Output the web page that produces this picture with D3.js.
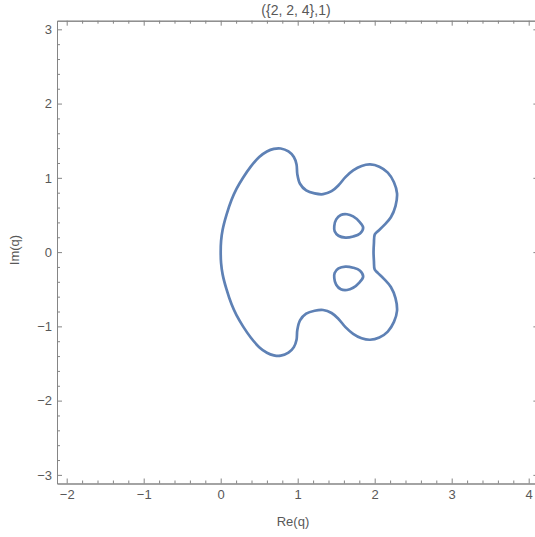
<!DOCTYPE html>
<html>
<head>
<meta charset="utf-8">
<script src="https://cdn.jsdelivr.net/npm/d3@7"></script>
<style>
  body { margin: 0; background: #fff; }
  svg { display: block; font-family: "Liberation Sans", Arial, sans-serif; }
</style>
</head>
<body>
<svg id="chart"></svg>
<script>
// contour, {Re(q), Im(q)}
var outerCurve = [
  [0.0, 0.0], [0.005, 0.15], [0.025, 0.30], [0.075, 0.50], [0.14, 0.70], [0.205, 0.85],
  [0.29, 1.00], [0.39, 1.15], [0.50, 1.28], [0.60, 1.355], [0.69, 1.39], [0.78, 1.395],
  [0.88, 1.355], [0.95, 1.28],
  [0.985, 1.18], [0.995, 1.05], [1.03, 0.92], [1.11, 0.83], [1.22, 0.79], [1.33, 0.78],
  [1.44, 0.82], [1.53, 0.90], [1.62, 1.01], [1.72, 1.10], [1.83, 1.16], [1.94, 1.18],
  [2.06, 1.15], [2.17, 1.07], [2.25, 0.94], [2.29, 0.79], [2.27, 0.62], [2.21, 0.47],
  [2.12, 0.36], [2.04, 0.28], [2.00, 0.235], [1.99, 0.12], [1.985, 0.0],
  [1.99, -0.12], [2.00, -0.235], [2.04, -0.28], [2.12, -0.36], [2.21, -0.47], [2.27, -0.62],
  [2.29, -0.79], [2.25, -0.94], [2.17, -1.07], [2.06, -1.15], [1.94, -1.18], [1.83, -1.16],
  [1.72, -1.10], [1.62, -1.01], [1.53, -0.90], [1.44, -0.82], [1.33, -0.78], [1.22, -0.79],
  [1.11, -0.83], [1.03, -0.92], [0.995, -1.05], [0.985, -1.18], [0.95, -1.28],
  [0.88, -1.355], [0.78, -1.395], [0.69, -1.39], [0.60, -1.355], [0.50, -1.28], [0.39, -1.15],
  [0.29, -1.00], [0.205, -0.85], [0.14, -0.70], [0.075, -0.50], [0.025, -0.30], [0.005, -0.15]
];
var upperLoop = [
  [1.475, 0.35], [1.50, 0.44], [1.56, 0.50], [1.64, 0.51], [1.72, 0.48], [1.80, 0.41],
  [1.85, 0.33], [1.81, 0.25], [1.72, 0.21], [1.62, 0.195], [1.53, 0.22], [1.48, 0.28]
];
var lowerLoop = [
  [1.475, -0.35], [1.48, -0.28], [1.53, -0.22], [1.62, -0.195], [1.72, -0.21], [1.81, -0.25],
  [1.85, -0.33], [1.80, -0.41], [1.72, -0.48], [1.64, -0.51], [1.56, -0.50], [1.50, -0.44]
];
var xMajor = [-2, -1, 0, 1, 2, 3, 4];
var yMajor = [-3, -2, -1, 0, 1, 2, 3];
var title = "({2, 2, 4},1)";
var xLabel = "Re(q)";
var yLabel = "Im(q)";

var W = 535, H = 537;
var frame = {left: 57, top: 20.7, right: 538.4, bottom: 483.5};
var frameColor = "#858585", textColor = "#585858";
var lineColor = "#5e81b5";

var svg = d3.select("#chart").attr("width", W).attr("height", H);

var x = d3.scaleLinear().domain([-2.126, 4.126]).range([frame.left, frame.right]);
var y = d3.scaleLinear().domain([-3.116, 3.116]).range([frame.bottom, frame.top]);

var xMinor = d3.range(-2.2, 4.21, 0.2).map(function(v){ return +v.toFixed(1); })
  .filter(function(v){ return v >= -2.126 && v <= 4.126 && xMajor.indexOf(v) < 0; });
var yMinor = d3.range(-3.2, 3.21, 0.2).map(function(v){ return +v.toFixed(1); })
  .filter(function(v){ return v >= -3.116 && v <= 3.116 && yMajor.indexOf(v) < 0; });

function fmt(d){ return d < 0 ? "\u2212" + Math.abs(d) : String(d); }

function styleAxis(g){
  g.select(".domain").attr("stroke", frameColor).attr("stroke-width", 1);
  g.selectAll(".tick line").attr("stroke", frameColor).attr("stroke-width", 1);
  g.selectAll(".tick text").attr("fill", textColor).attr("font-size", 13);
}

// major ticks with labels
svg.append("g").attr("transform", "translate(0," + frame.bottom + ")")
  .call(d3.axisBottom(x).tickValues(xMajor).tickFormat(fmt).tickSizeInner(-5).tickSizeOuter(0).tickPadding(6))
  .call(styleAxis);
svg.append("g").attr("transform", "translate(" + frame.left + ",0)")
  .call(d3.axisLeft(y).tickValues(yMajor).tickFormat(fmt).tickSizeInner(-5).tickSizeOuter(0).tickPadding(5))
  .call(styleAxis);
svg.append("g").attr("transform", "translate(0," + frame.top + ")")
  .call(d3.axisTop(x).tickValues(xMajor).tickFormat("").tickSizeInner(-5).tickSizeOuter(0))
  .call(styleAxis);
svg.append("g").attr("transform", "translate(" + frame.right + ",0)")
  .call(d3.axisRight(y).tickValues(yMajor).tickFormat("").tickSizeInner(-5).tickSizeOuter(0))
  .call(styleAxis);

// minor ticks
svg.append("g").attr("transform", "translate(0," + frame.bottom + ")")
  .call(d3.axisBottom(x).tickValues(xMinor).tickFormat("").tickSizeInner(-3).tickSizeOuter(0)).call(styleAxis);
svg.append("g").attr("transform", "translate(" + frame.left + ",0)")
  .call(d3.axisLeft(y).tickValues(yMinor).tickFormat("").tickSizeInner(-3).tickSizeOuter(0)).call(styleAxis);
svg.append("g").attr("transform", "translate(0," + frame.top + ")")
  .call(d3.axisTop(x).tickValues(xMinor).tickFormat("").tickSizeInner(-3).tickSizeOuter(0)).call(styleAxis);
svg.append("g").attr("transform", "translate(" + frame.right + ",0)")
  .call(d3.axisRight(y).tickValues(yMinor).tickFormat("").tickSizeInner(-3).tickSizeOuter(0)).call(styleAxis);

// contour lines
var line = d3.line()
  .x(function(d){ return x(d[0]); })
  .y(function(d){ return y(d[1]); })
  .curve(d3.curveCatmullRomClosed.alpha(0.5));

[outerCurve, upperLoop, lowerLoop].forEach(function(pts){
  svg.append("path")
    .datum(pts)
    .attr("d", line)
    .attr("fill", "none")
    .attr("stroke", lineColor)
    .attr("stroke-width", 2.7)
    .attr("stroke-linejoin", "round");
});

// labels
svg.append("text").attr("x", 296).attr("y", 15)
  .attr("text-anchor", "middle").attr("font-size", 14).attr("fill", textColor).text(title);
svg.append("text").attr("x", 293).attr("y", 526)
  .attr("text-anchor", "middle").attr("font-size", 13).attr("fill", textColor).text(xLabel);
svg.append("text").attr("transform", "translate(19,250) rotate(-90)")
  .attr("text-anchor", "middle").attr("font-size", 13).attr("fill", textColor).text(yLabel);
</script>
</body>
</html>
